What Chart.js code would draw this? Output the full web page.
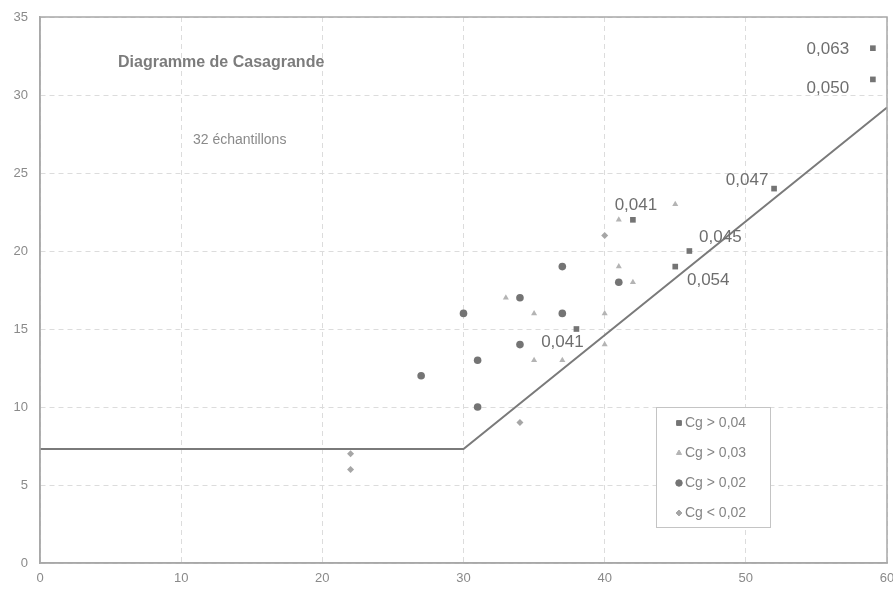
<!DOCTYPE html>
<html>
<head>
<meta charset="utf-8">
<script src="https://cdn.jsdelivr.net/npm/chart.js@4.4.1/dist/chart.umd.min.js"></script>
<style>
  html, body { margin: 0; padding: 0; background: #fff; }
  #wrap { width: 893px; height: 593px; position: relative; }
</style>
</head>
<body>
<div id="wrap"><canvas id="c" width="893" height="593"></canvas></div>
<script>
// Liquid limit (wL) and plasticity index (Ip) per sample, grouped by Cg class
const sqX = [59, 59, 52, 46, 45, 42, 38];
const sqY = [33, 31, 24, 20, 19, 22, 15];
const sqCg = ['0,063', '0,050', '0,047', '0,045', '0,054', '0,041', '0,041'];

const triX = [33, 35, 35, 37, 40, 40, 41, 45, 42, 41];
const triY = [17, 16, 13, 13, 16, 14, 22, 23, 18, 19];

const cirX = [27, 30, 31, 31, 34, 34, 37, 37, 41];
const cirY = [12, 16, 13, 10, 17, 14, 19, 16, 18];

const diaX = [22, 22, 34, 40];
const diaY = [7, 6, 9, 21];

// A-line: Ip = 0.73 (wL - 20), floored at 7.3
const lineX = [0, 30, 60];
const lineY = [7.3, 7.3, 29.2];

const xTicks = [0, 10, 20, 30, 40, 50, 60];
const yTicks = [0, 5, 10, 15, 20, 25, 30, 35];

const legendLabels = ['Cg > 0,04', 'Cg > 0,03', 'Cg > 0,02', 'Cg < 0,02'];
const chartTitle = 'Diagramme de Casagrande';
const chartSubtitle = '32 échantillons';

// label offsets (px) for the Cg values next to the square markers
const cgOffsets = [[-45, 1], [-45, 9], [-27, -8], [31, -14], [33, 14], [3, -14], [-14, 13]];

const pts = (xs, ys) => xs.map((x, i) => ({ x: x, y: ys[i] }));

const GREY_DARK = '#747474';
const GREY_LIGHT = '#b4b4b4';
const FONT = '"Liberation Sans", Arial, sans-serif';

const frame = {
  id: 'frame',
  afterDatasetsDraw(chart) {
    const { ctx, chartArea: a } = chart;
    ctx.save();
    ctx.strokeStyle = '#a8a8a8';
    ctx.lineWidth = 1.5;
    ctx.strokeRect(a.left, a.top, a.right - a.left, a.bottom - a.top);
    ctx.restore();
  }
};

const annotations = {
  id: 'annotations',
  afterDraw(chart) {
    const { ctx } = chart;
    const meta = chart.getDatasetMeta(1);
    ctx.save();
    // Cg values beside the square markers
    ctx.font = '17px ' + FONT;
    ctx.fillStyle = '#6e6e6e';
    ctx.textAlign = 'center';
    ctx.textBaseline = 'middle';
    meta.data.forEach((el, i) => {
      const o = cgOffsets[i];
      ctx.fillText(sqCg[i], el.x + o[0], el.y + o[1]);
    });

    // titles inside the plot
    ctx.textAlign = 'left';
    ctx.font = 'bold 16px ' + FONT;
    ctx.fillStyle = '#7c7c7c';
    ctx.fillText(chartTitle, 118, 63);
    ctx.font = '14px ' + FONT;
    ctx.fillStyle = '#8a8a8a';
    ctx.fillText(chartSubtitle, 193, 140);

    // legend box
    const bx = 656, by = 407, bw = 114, bh = 120;
    ctx.fillStyle = '#ffffff';
    ctx.fillRect(bx, by, bw, bh);
    ctx.strokeStyle = '#c4c4c4';
    ctx.lineWidth = 1;
    ctx.strokeRect(bx + 0.5, by + 0.5, bw, bh);
    ctx.font = '14px ' + FONT;
    legendLabels.forEach((lab, i) => {
      const ds = chart.data.datasets[i + 1];
      const y = by + 16 + i * 30;
      ctx.fillStyle = ds.backgroundColor;
      ctx.strokeStyle = ds.backgroundColor;
      Chart.helpers.drawPoint(ctx, {
        pointStyle: ds.pointStyle,
        radius: ds.pointRadius * 0.85,
        borderWidth: 0.1,
        rotation: 0
      }, bx + 23, y);
      ctx.fillStyle = '#858585';
      ctx.fillText(lab, bx + 29, y);
    });
    ctx.restore();
  }
};

const tickFont = { family: FONT, size: 13 };

new Chart(document.getElementById('c'), {
  type: 'scatter',
  data: {
    datasets: [
      {
        label: 'Ligne A',
        data: pts(lineX, lineY),
        showLine: true,
        borderColor: '#7a7a7a',
        borderWidth: 2,
        pointRadius: 0,
        fill: false,
        order: 5
      },
      {
        label: legendLabels[0],
        data: pts(sqX, sqY),
        pointStyle: 'rect',
        pointRadius: 4,
        backgroundColor: GREY_DARK,
        borderColor: GREY_DARK,
        borderWidth: 0
      },
      {
        label: legendLabels[1],
        data: pts(triX, triY),
        pointStyle: 'triangle',
        pointRadius: 3.5,
        backgroundColor: GREY_LIGHT,
        borderColor: GREY_LIGHT,
        borderWidth: 0
      },
      {
        label: legendLabels[2],
        data: pts(cirX, cirY),
        pointStyle: 'circle',
        pointRadius: 3.8,
        backgroundColor: GREY_DARK,
        borderColor: GREY_DARK,
        borderWidth: 0
      },
      {
        label: legendLabels[3],
        data: pts(diaX, diaY),
        pointStyle: 'rectRot',
        pointRadius: 3.5,
        backgroundColor: '#a6a6a6',
        borderColor: '#a6a6a6',
        borderWidth: 0
      }
    ]
  },
  options: {
    responsive: false,
    animation: false,
    layout: { padding: { top: 17, right: 6, left: 0, bottom: 0 } },
    plugins: {
      legend: { display: false },
      tooltip: { enabled: false }
    },
    scales: {
      x: {
        type: 'linear',
        min: 0, max: 60,
        afterBuildTicks: s => { s.ticks = xTicks.map(v => ({ value: v })); },
        afterFit: s => { s.height = 30; s.paddingLeft = 0; s.paddingRight = 0; },
        border: { display: true, color: '#a8a8a8', width: 1.5, dash: [5, 4] },
        grid: { color: '#dcdcdc', lineWidth: 1, drawTicks: false },
        ticks: { color: '#8a8a8a', padding: 8, font: tickFont }
      },
      y: {
        type: 'linear',
        min: 0, max: 35,
        afterBuildTicks: s => { s.ticks = yTicks.map(v => ({ value: v })); },
        afterFit: s => { s.width = 40; s.paddingTop = 0; s.paddingBottom = 0; },
        border: { display: true, color: '#a8a8a8', width: 1.5, dash: [5, 4] },
        grid: { color: '#dcdcdc', lineWidth: 1, drawTicks: false },
        ticks: { color: '#8a8a8a', padding: 12, font: tickFont }
      }
    }
  },
  plugins: [frame, annotations]
});
</script>
</body>
</html>
